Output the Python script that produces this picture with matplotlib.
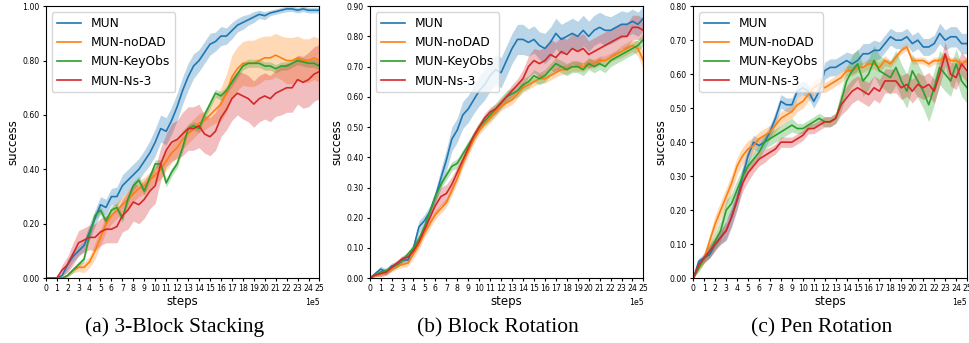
'''Success curves for the three manipulation tasks.'''

import numpy as np
import matplotlib.pyplot as plt

# x grid (in units of 1e5 steps)
steps = np.linspace(0, 25, 51)

methods = ['MUN', 'MUN-noDAD', 'MUN-KeyObs', 'MUN-Ns-3']
colors = ['tab:blue', 'tab:orange', 'tab:green', 'tab:red']
captions = ['(a) 3-Block Stacking', '(b) Block Rotation', '(c) Pen Rotation']
y_tops = [1.0, 0.9, 0.8]
y_steps = [0.2, 0.1, 0.1]

# ---- (a) 3-Block Stacking ----
stack_mun = [0, 0, 0, 0.01, 0.05, 0.08, 0.10, 0.12, 0.17, 0.22, 0.27, 0.26, 0.30, 0.30, 0.34, 0.36,
             0.38, 0.40, 0.43, 0.46, 0.50, 0.55, 0.54, 0.58, 0.63, 0.69, 0.74, 0.78, 0.80, 0.83, 0.86,
             0.87, 0.89, 0.89, 0.91, 0.93, 0.94, 0.95, 0.96, 0.97, 0.965, 0.975, 0.98, 0.985, 0.99,
             0.99, 0.985, 0.99, 0.985, 0.985, 0.985]
stack_nodad = [0, 0, 0, 0, 0.01, 0.03, 0.04, 0.04, 0.06, 0.10, 0.15, 0.20, 0.23, 0.25, 0.27, 0.29,
               0.31, 0.33, 0.34, 0.36, 0.38, 0.40, 0.43, 0.46, 0.48, 0.51, 0.53, 0.55, 0.57, 0.58,
               0.60, 0.62, 0.64, 0.68, 0.74, 0.77, 0.79, 0.79, 0.79, 0.80, 0.81, 0.81, 0.82, 0.81,
               0.80, 0.80, 0.81, 0.80, 0.80, 0.81, 0.80]
stack_keyobs = [0, 0, 0, 0, 0.01, 0.03, 0.05, 0.07, 0.16, 0.23, 0.25, 0.21, 0.25, 0.26, 0.22, 0.29,
                0.34, 0.36, 0.32, 0.37, 0.42, 0.42, 0.35, 0.39, 0.42, 0.48, 0.55, 0.56, 0.55, 0.60,
                0.64, 0.68, 0.67, 0.69, 0.72, 0.75, 0.78, 0.79, 0.79, 0.79, 0.78, 0.78, 0.77, 0.78,
                0.78, 0.79, 0.80, 0.795, 0.79, 0.79, 0.78]
stack_ns3 = [0, 0, 0, 0.03, 0.05, 0.09, 0.13, 0.14, 0.15, 0.15, 0.17, 0.18, 0.18, 0.19, 0.23, 0.25,
             0.28, 0.27, 0.29, 0.32, 0.34, 0.42, 0.47, 0.50, 0.51, 0.53, 0.55, 0.55, 0.56, 0.53, 0.52,
             0.54, 0.59, 0.62, 0.66, 0.68, 0.67, 0.66, 0.64, 0.66, 0.67, 0.66, 0.68, 0.69, 0.70, 0.70,
             0.73, 0.72, 0.73, 0.75, 0.76]
stack_mun_sd = [0, 0, 0, 0.005, 0.02, 0.02, 0.02, 0.02, 0.03, 0.03, 0.03, 0.03, 0.03, 0.035, 0.04,
                0.04, 0.04, 0.04, 0.04, 0.045, 0.05, 0.05, 0.05, 0.05, 0.05, 0.05, 0.05, 0.045, 0.04,
                0.04, 0.04, 0.035, 0.035, 0.03, 0.03, 0.025, 0.025, 0.02, 0.02, 0.015, 0.015, 0.01,
                0.01, 0.01, 0.01, 0.01, 0.01, 0.01, 0.01, 0.01, 0.01]
stack_nodad_sd = [0, 0, 0, 0, 0.005, 0.01, 0.015, 0.02, 0.02, 0.03, 0.03, 0.03, 0.03, 0.03, 0.03,
                  0.03, 0.03, 0.03, 0.03, 0.03, 0.03, 0.035, 0.035, 0.035, 0.035, 0.035, 0.035,
                  0.035, 0.035, 0.035, 0.04, 0.05, 0.06, 0.07, 0.08, 0.08, 0.08, 0.085, 0.085,
                  0.085, 0.08, 0.08, 0.08, 0.08, 0.085, 0.085, 0.08, 0.08, 0.08, 0.08, 0.08]
stack_keyobs_sd = [0, 0, 0, 0, 0.005, 0.01, 0.01, 0.01, 0.015, 0.015, 0.015, 0.015, 0.015, 0.015,
                   0.015, 0.015, 0.015, 0.015, 0.015, 0.015, 0.015, 0.015, 0.015, 0.015, 0.015,
                   0.015, 0.015, 0.015, 0.015, 0.015, 0.015, 0.015, 0.015, 0.015, 0.015, 0.015,
                   0.015, 0.015, 0.015, 0.015, 0.015, 0.015, 0.015, 0.015, 0.015, 0.015, 0.015,
                   0.015, 0.015, 0.015, 0.015]
stack_ns3_sd = [0, 0, 0, 0.02, 0.03, 0.04, 0.045, 0.045, 0.045, 0.05, 0.05, 0.05, 0.05, 0.06, 0.06,
                0.07, 0.07, 0.07, 0.07, 0.065, 0.065, 0.06, 0.06, 0.07, 0.07, 0.08, 0.08, 0.08, 0.08,
                0.07, 0.07, 0.07, 0.07, 0.075, 0.08, 0.08, 0.085, 0.085, 0.085, 0.085, 0.085, 0.085,
                0.085, 0.09, 0.09, 0.09, 0.09, 0.095, 0.1, 0.1, 0.1]

# ---- (b) Block Rotation ----
block_mun = [0, 0.015, 0.03, 0.02, 0.04, 0.045, 0.06, 0.06, 0.10, 0.17, 0.19, 0.22, 0.27, 0.33,
             0.39, 0.46, 0.49, 0.54, 0.56, 0.59, 0.62, 0.64, 0.67, 0.69, 0.68, 0.72, 0.76, 0.79,
             0.79, 0.78, 0.79, 0.77, 0.76, 0.78, 0.81, 0.79, 0.80, 0.81, 0.80, 0.82, 0.80, 0.82,
             0.83, 0.82, 0.82, 0.83, 0.84, 0.84, 0.85, 0.84, 0.86]
block_nodad = [0, 0.01, 0.015, 0.02, 0.03, 0.04, 0.045, 0.05, 0.08, 0.11, 0.15, 0.18, 0.21, 0.23,
               0.25, 0.29, 0.33, 0.38, 0.42, 0.46, 0.49, 0.51, 0.53, 0.55, 0.57, 0.58, 0.59, 0.61,
               0.63, 0.64, 0.65, 0.66, 0.66, 0.67, 0.68, 0.69, 0.69, 0.70, 0.70, 0.70, 0.71, 0.71,
               0.72, 0.72, 0.73, 0.74, 0.75, 0.76, 0.77, 0.76, 0.72]
block_keyobs = [0, 0.01, 0.02, 0.025, 0.035, 0.045, 0.06, 0.08, 0.10, 0.13, 0.17, 0.22, 0.27, 0.31,
                0.34, 0.37, 0.38, 0.41, 0.44, 0.47, 0.50, 0.52, 0.54, 0.56, 0.58, 0.60, 0.61, 0.62,
                0.64, 0.65, 0.67, 0.66, 0.67, 0.69, 0.71, 0.70, 0.69, 0.70, 0.70, 0.69, 0.71, 0.70,
                0.71, 0.70, 0.72, 0.73, 0.74, 0.75, 0.76, 0.77, 0.79]
block_ns3 = [0, 0.01, 0.015, 0.02, 0.035, 0.05, 0.065, 0.07, 0.09, 0.12, 0.16, 0.20, 0.24, 0.27,
             0.28, 0.31, 0.35, 0.39, 0.43, 0.47, 0.50, 0.53, 0.55, 0.56, 0.58, 0.60, 0.62, 0.64,
             0.66, 0.70, 0.72, 0.71, 0.72, 0.74, 0.73, 0.75, 0.74, 0.76, 0.75, 0.76, 0.74, 0.75,
             0.76, 0.77, 0.78, 0.79, 0.80, 0.80, 0.83, 0.83, 0.82]
block_mun_sd = [0, 0.005, 0.01, 0.01, 0.01, 0.01, 0.01, 0.01, 0.015, 0.02, 0.02, 0.02, 0.02, 0.03,
                0.035, 0.04, 0.04, 0.045, 0.045, 0.045, 0.05, 0.05, 0.05, 0.05, 0.05, 0.05, 0.05,
                0.05, 0.05, 0.045, 0.045, 0.045, 0.05, 0.05, 0.05, 0.05, 0.05, 0.05, 0.05, 0.05,
                0.05, 0.05, 0.05, 0.05, 0.045, 0.045, 0.045, 0.04, 0.04, 0.04, 0.04]
block_nodad_sd = [0, 0.005, 0.01, 0.01, 0.01, 0.01, 0.01, 0.01, 0.015, 0.015, 0.015, 0.015, 0.015,
                  0.015, 0.015, 0.015, 0.015, 0.015, 0.015, 0.015, 0.015, 0.015, 0.015, 0.015,
                  0.015, 0.015, 0.015, 0.015, 0.015, 0.015, 0.015, 0.015, 0.015, 0.015, 0.015,
                  0.015, 0.015, 0.015, 0.015, 0.015, 0.015, 0.015, 0.015, 0.015, 0.015, 0.015,
                  0.02, 0.02, 0.02, 0.025, 0.03]
block_keyobs_sd = [0, 0.005, 0.01, 0.01, 0.01, 0.01, 0.01, 0.01, 0.015, 0.015, 0.015, 0.015, 0.015,
                   0.015, 0.015, 0.015, 0.015, 0.015, 0.015, 0.015, 0.015, 0.015, 0.02, 0.02, 0.02,
                   0.02, 0.02, 0.02, 0.02, 0.02, 0.02, 0.02, 0.02, 0.02, 0.02, 0.02, 0.02, 0.02,
                   0.02, 0.02, 0.02, 0.02, 0.02, 0.02, 0.02, 0.02, 0.02, 0.02, 0.02, 0.02, 0.02]
block_ns3_sd = [0, 0.005, 0.01, 0.01, 0.01, 0.01, 0.01, 0.01, 0.01, 0.01, 0.015, 0.02, 0.025, 0.03,
                0.03, 0.025, 0.02, 0.015, 0.015, 0.015, 0.015, 0.015, 0.015, 0.015, 0.015, 0.015,
                0.02, 0.02, 0.03, 0.035, 0.04, 0.045, 0.045, 0.05, 0.05, 0.05, 0.05, 0.05, 0.05,
                0.05, 0.045, 0.045, 0.045, 0.045, 0.045, 0.045, 0.04, 0.04, 0.04, 0.04, 0.04]

# ---- (c) Pen Rotation ----
pen_mun = [0, 0.05, 0.06, 0.07, 0.10, 0.12, 0.14, 0.18, 0.23, 0.30, 0.36, 0.40, 0.39, 0.40, 0.43,
           0.47, 0.52, 0.51, 0.51, 0.55, 0.56, 0.55, 0.52, 0.55, 0.61, 0.62, 0.62, 0.63, 0.64, 0.63,
           0.64, 0.66, 0.66, 0.67, 0.67, 0.69, 0.71, 0.70, 0.70, 0.71, 0.69, 0.70, 0.68, 0.68, 0.69,
           0.72, 0.70, 0.71, 0.71, 0.69, 0.69]
pen_nodad = [0, 0.03, 0.06, 0.11, 0.16, 0.20, 0.24, 0.28, 0.33, 0.36, 0.38, 0.39, 0.41, 0.42, 0.43,
             0.45, 0.47, 0.48, 0.49, 0.51, 0.52, 0.54, 0.56, 0.57, 0.56, 0.57, 0.58, 0.59, 0.61,
             0.61, 0.62, 0.62, 0.63, 0.63, 0.62, 0.64, 0.63, 0.65, 0.67, 0.68, 0.64, 0.64, 0.64,
             0.63, 0.64, 0.64, 0.65, 0.64, 0.64, 0.63, 0.64]
pen_keyobs = [0, 0.03, 0.06, 0.08, 0.11, 0.14, 0.20, 0.22, 0.26, 0.30, 0.33, 0.35, 0.37, 0.40,
              0.41, 0.42, 0.43, 0.44, 0.45, 0.44, 0.44, 0.45, 0.46, 0.47, 0.46, 0.46, 0.47, 0.52,
              0.58, 0.61, 0.63, 0.58, 0.60, 0.64, 0.61, 0.60, 0.59, 0.62, 0.58, 0.55, 0.61, 0.58,
              0.55, 0.51, 0.56, 0.62, 0.60, 0.58, 0.63, 0.58, 0.56]
pen_ns3 = [0, 0.04, 0.06, 0.08, 0.10, 0.12, 0.14, 0.18, 0.23, 0.28, 0.31, 0.33, 0.35, 0.36, 0.37,
           0.38, 0.40, 0.40, 0.40, 0.41, 0.42, 0.44, 0.44, 0.45, 0.46, 0.46, 0.47, 0.51, 0.53, 0.55,
           0.56, 0.55, 0.54, 0.56, 0.55, 0.58, 0.58, 0.58, 0.56, 0.57, 0.55, 0.57, 0.56, 0.57, 0.55,
           0.60, 0.66, 0.60, 0.59, 0.63, 0.61]
pen_mun_sd = [0, 0.01, 0.01, 0.01, 0.015, 0.02, 0.03, 0.03, 0.03, 0.03, 0.025, 0.02, 0.02, 0.02,
              0.02, 0.02, 0.02, 0.02, 0.02, 0.02, 0.02, 0.02, 0.02, 0.02, 0.025, 0.025, 0.025,
              0.025, 0.025, 0.03, 0.03, 0.03, 0.03, 0.03, 0.025, 0.025, 0.025, 0.025, 0.025, 0.025,
              0.025, 0.025, 0.025, 0.025, 0.025, 0.03, 0.03, 0.03, 0.03, 0.03, 0.03]
pen_nodad_sd = [0, 0.01, 0.015, 0.02, 0.025, 0.025, 0.025, 0.025, 0.025, 0.025, 0.025, 0.025,
                0.02, 0.02, 0.02, 0.02, 0.02, 0.02, 0.02, 0.02, 0.02, 0.02, 0.02, 0.02, 0.015,
                0.015, 0.015, 0.015, 0.015, 0.015, 0.015, 0.015, 0.015, 0.015, 0.015, 0.015, 0.01,
                0.01, 0.01, 0.01, 0.01, 0.01, 0.01, 0.01, 0.01, 0.01, 0.01, 0.01, 0.01, 0.01, 0.01]
pen_keyobs_sd = [0, 0.01, 0.015, 0.02, 0.025, 0.03, 0.03, 0.03, 0.03, 0.025, 0.02, 0.02, 0.02,
                 0.02, 0.02, 0.02, 0.02, 0.02, 0.02, 0.015, 0.015, 0.015, 0.015, 0.015, 0.015,
                 0.015, 0.015, 0.03, 0.04, 0.045, 0.045, 0.045, 0.045, 0.045, 0.045, 0.045, 0.05,
                 0.05, 0.05, 0.05, 0.05, 0.05, 0.05, 0.05, 0.05, 0.05, 0.05, 0.045, 0.045, 0.045,
                 0.045]
pen_ns3_sd = [0, 0.01, 0.015, 0.02, 0.02, 0.02, 0.025, 0.025, 0.025, 0.025, 0.025, 0.02, 0.02,
              0.02, 0.015, 0.015, 0.015, 0.015, 0.015, 0.015, 0.015, 0.015, 0.015, 0.015, 0.015,
              0.015, 0.015, 0.03, 0.035, 0.035, 0.035, 0.035, 0.035, 0.035, 0.035, 0.035, 0.035,
              0.035, 0.035, 0.035, 0.035, 0.035, 0.035, 0.035, 0.035, 0.035, 0.035, 0.035, 0.035,
              0.035, 0.035]

panels = [
    ([stack_mun, stack_nodad, stack_keyobs, stack_ns3],
     [stack_mun_sd, stack_nodad_sd, stack_keyobs_sd, stack_ns3_sd]),
    ([block_mun, block_nodad, block_keyobs, block_ns3],
     [block_mun_sd, block_nodad_sd, block_keyobs_sd, block_ns3_sd]),
    ([pen_mun, pen_nodad, pen_keyobs, pen_ns3],
     [pen_mun_sd, pen_nodad_sd, pen_keyobs_sd, pen_ns3_sd]),
]

fig = plt.figure(figsize=(9.69, 3.43), dpi=100)
lefts = [0.0472, 0.3815, 0.7155]
x = steps * 1e5

for i, (means, sds) in enumerate(panels):
    ax = fig.add_axes([lefts[i], 0.189, 0.2825, 0.793])
    for name, color, m, s in zip(methods, colors, means, sds):
        m, s = np.array(m), np.array(s)
        ax.plot(x, m, color=color, lw=1.2, label=name)
        ax.fill_between(x, m - s, m + s, color=color, alpha=0.3, lw=0)

    # axes style
    ax.set_xlim(0, 25e5)
    ax.set_ylim(0, y_tops[i])
    ax.set_xticks(np.arange(26) * 1e5)
    ax.ticklabel_format(axis='x', style='sci', scilimits=(5, 5))
    ax.set_yticks(np.arange(0, y_tops[i] + 1e-9, y_steps[i]))
    ax.yaxis.set_major_formatter(plt.FormatStrFormatter('%.2f'))
    ax.tick_params(labelsize=5.6, length=2.5, pad=2)
    ax.xaxis.get_offset_text().set_fontsize(5.6)
    ax.set_xlabel('steps', fontsize=8.5, labelpad=1)
    ax.set_ylabel('success', fontsize=8.5, labelpad=2)
    ax.legend(loc='upper left', fontsize=8.8, borderaxespad=0.5)

    # sub-figure caption
    fig.text(lefts[i] + 0.1325, 0.045, captions[i], ha='center', va='center',
             fontsize=15.5, family='Liberation Serif')

fig.savefig('out.png', dpi=100)
